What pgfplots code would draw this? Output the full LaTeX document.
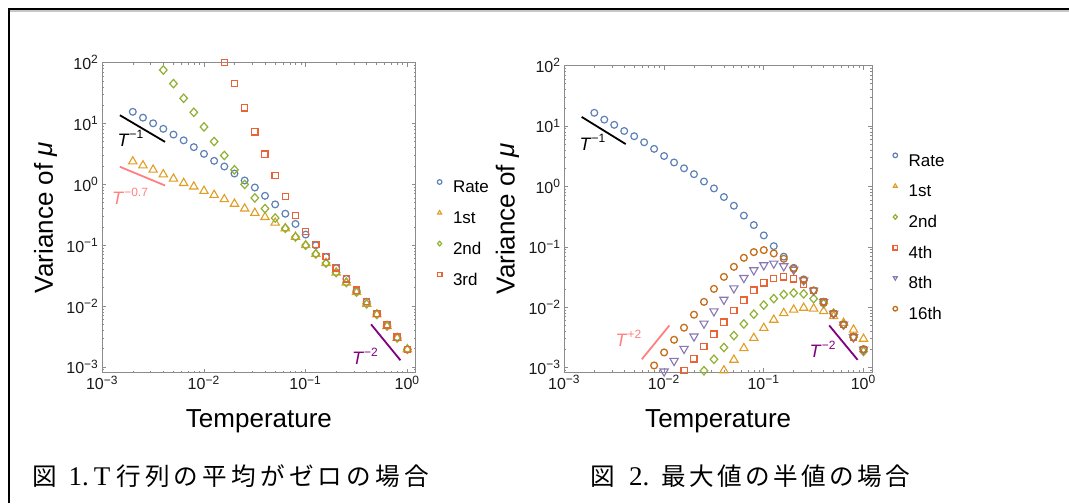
\documentclass[border=0pt]{standalone}
\usepackage{fontspec}
\setmainfont{Liberation Sans}
\newfontfamily\cjkA[LetterSpace=17]{Noto Sans CJK JP}
\newfontfamily\cjkB[LetterSpace=14]{Noto Sans CJK JP}
\newfontfamily\cjk{Noto Sans CJK JP}
\newfontfamily\serif{Liberation Serif}
\usepackage{pgfplots}
\pgfplotsset{compat=1.18}
\definecolor{c1}{rgb}{0.368417,0.506779,0.709798}
\definecolor{c2}{rgb}{0.880722,0.611041,0.142051}
\definecolor{c3}{rgb}{0.560181,0.691569,0.194885}
\definecolor{c4}{rgb}{0.922526,0.385626,0.209179}
\definecolor{c5}{rgb}{0.528488,0.470624,0.701351}
\definecolor{c6}{rgb}{0.772079,0.431554,0.102387}
\definecolor{pinkm}{rgb}{1,0.5,0.5}
\definecolor{purplem}{rgb}{0.5,0,0.5}
\newcommand{\sups}[1]{\textsuperscript{#1}}
\newcommand{\lbfont}{\fontsize{9}{10}\selectfont}

\pgfplotsset{
    scale only axis,
    axis line style={black!45, line width=0.5pt},
    tick style={black!45, line width=0.4pt},
    tick align=inside,
    major tick length=2pt, minor tick length=1pt,
    ticklabel style={font=\fontsize{8}{9}\selectfont, text=black!90},
    xticklabel style={inner sep=1.5pt},
    yticklabel style={inner sep=1.5pt},
    label style={font=\fontsize{13}{15}\selectfont},
    legend cell align=left,
    legend style={draw=none, fill=none, inner sep=0pt, outer sep=0pt,
      font=\fontsize{8.5}{10}\selectfont, row sep=7.6pt, column sep=0pt,
      nodes={inner sep=0pt, text height=6.2pt, text depth=1.3pt}},
    legend image code/.code={\path (-2pt,0pt) (6.5pt,0pt); \draw[#1, mark size=1.15pt] plot coordinates {(0pt,2.9pt)};},
}
\pgfplotsset{
  s1/.style={only marks, color=c1, mark=o, mark size=1.7pt, mark options={line width=0.6pt}},
  s2/.style={only marks, color=c2, mark=triangle, mark size=2.4pt, mark options={line width=0.55pt}},
  s3/.style={only marks, color=c3, mark=diamond, mark size=2.1pt, mark options={line width=0.6pt, xscale=1.2}},
  s4/.style={only marks, color=c4, mark=square, mark size=1.55pt, mark options={line width=0.6pt}},
  s5/.style={only marks, color=c5, mark=triangle, mark size=2.4pt, mark options={line width=0.55pt, rotate=180}},
  s6/.style={only marks, color=c6, mark=o, mark size=1.7pt, mark options={line width=0.65pt}},
}

\begin{document}
\begin{tikzpicture}
\useasboundingbox (0,0) rectangle (534.5pt,251.5pt);
\draw[black!22, line width=0.7pt] (5pt,246pt) -- (534.5pt,246pt);
\draw[black, line width=1.1pt] (4.35pt,0pt) -- (4.35pt,246.85pt) -- (534.5pt,246.85pt);

% ---------------- left plot ----------------
\begin{axis}[
  xmode=log, ymode=log,
  at={(51.15pt,65.25pt)}, anchor=south west,
  width=156.65pt, height=154.9pt,
  xmin=1e-3, xmax=1.205, ymin=8.12e-4, ymax=100,
  xtick={0.001,0.01,0.1,1},
  xticklabels={10\sups{−3},10\sups{−2},10\sups{−1},10\sups{0}},
  minor xtick={0.002,0.003,0.004,0.005,0.006,0.007,0.008,0.009,0.02,0.03,0.04,0.05,0.06,0.07,0.08,0.09,0.2,0.3,0.4,0.5,0.6,0.7,0.8,0.9},
  ytick={0.001,0.01,0.1,1,10,100},
  yticklabels={10\sups{−3},10\sups{−2},10\sups{−1},10\sups{0},10\sups{1},10\sups{2}},
  minor ytick={0.0009,0.002,0.003,0.004,0.005,0.006,0.007,0.008,0.009,0.02,0.03,0.04,0.05,0.06,0.07,0.08,0.09,0.2,0.3,0.4,0.5,0.6,0.7,0.8,0.9,2,3,4,5,6,7,8,9,20,30,40,50,60,70,80,90},
  xlabel={Temperature}, ylabel={Variance of \textit{μ}},
  xlabel style={at={(axis description cs:0.5,-0.177)}, anchor=base},
  ylabel style={at={(axis description cs:-0.1574,0.5)}, anchor=base, rotate=0},
  legend style={at={(axis description cs:1.0626,0.448)}, anchor=west},
]
\addplot[s1] coordinates {
(0.001995,15.6)(0.002512,12.5)(0.003162,10.1)(0.003981,8.2)(0.005012,6.6)(0.00631,5.3)(0.007943,4.1)(0.01,3.18)(0.01259,2.44)(0.01585,1.97)(0.01995,1.51)(0.02512,1.16)(0.03162,0.89)(0.03981,0.65)(0.05012,0.47)(0.0631,0.33)(0.07943,0.224)(0.1,0.15)(0.1259,0.1)(0.1585,0.064)(0.1995,0.042)(0.2512,0.028)(0.3162,0.018)(0.3981,0.0118)(0.5012,0.0075)(0.631,0.0049)(0.7943,0.0031)(1.0,0.00195)};
\addlegendentry{Rate}
\addplot[s2] coordinates {
(0.001995,2.38)(0.002512,2.05)(0.003162,1.74)(0.003981,1.46)(0.005012,1.24)(0.00631,1.05)(0.007943,0.92)(0.01,0.78)(0.01259,0.67)(0.01585,0.57)(0.01995,0.48)(0.02512,0.40)(0.03162,0.34)(0.03981,0.29)(0.05012,0.235)(0.0631,0.19)(0.07943,0.137)(0.1,0.1)(0.1259,0.072)(0.1585,0.051)(0.1995,0.0356)(0.2512,0.0244)(0.3162,0.017)(0.3981,0.0109)(0.5012,0.0073)(0.631,0.0047)(0.7943,0.003)(1.0,0.00195)};
\addlegendentry{1st}
\addplot[s3] coordinates {
(0.003981,75.8)(0.005012,45.3)(0.00631,26)(0.007943,15.3)(0.01,8.8)(0.01259,5.07)(0.01585,2.99)(0.01995,1.74)(0.02512,1.0)(0.03162,0.60)(0.03981,0.40)(0.05012,0.28)(0.0631,0.19)(0.07943,0.137)(0.1,0.1)(0.1259,0.072)(0.1585,0.051)(0.1995,0.0356)(0.2512,0.0244)(0.3162,0.017)(0.3981,0.0109)(0.5012,0.0073)(0.631,0.0047)(0.7943,0.003)(1.0,0.00195)};
\addlegendentry{2nd}
\addplot[s4] coordinates {
(0.01585,100)(0.01995,45.3)(0.02512,18.1)(0.03162,7.3)(0.03981,3.14)(0.05012,1.4)(0.0631,0.64)(0.07943,0.31)(0.1,0.17)(0.1259,0.103)(0.1585,0.065)(0.1995,0.0425)(0.2512,0.028)(0.3162,0.0183)(0.3981,0.0118)(0.5012,0.0075)(0.631,0.0049)(0.7943,0.0031)(1.0,0.00195)};
\addlegendentry{3rd}
\addplot[black, line width=0.9pt, forget plot] coordinates {(0.00149,13.7)(0.00414,5.0)};
\addplot[pinkm, line width=0.9pt, forget plot] coordinates {(0.00149,1.95)(0.00414,0.96)};
\addplot[purplem, line width=0.9pt, forget plot] coordinates {(0.44,0.00502)(0.855,0.00129)};
\node[anchor=base west, inner sep=0pt, text=black, font=\lbfont] at (axis cs:0.0014,4.2) {\textit{T}\sups{−1}};
\node[anchor=base west, inner sep=0pt, text=pinkm, font=\lbfont] at (axis cs:0.00124,0.47) {\textit{T}\sups{−0.7}};
\node[anchor=base west, inner sep=0pt, text=purplem, font=\lbfont] at (axis cs:0.283,0.0011) {\textit{T}\sups{−2}};
\end{axis}

% ---------------- right plot ----------------
\begin{axis}[
  xmode=log, ymode=log,
  at={(282.2pt,65.5pt)}, anchor=south west,
  width=153.8pt, height=153.15pt,
  xmin=1e-3, xmax=1.217, ymin=8.49e-4, ymax=100,
  xtick={0.001,0.01,0.1,1},
  xticklabels={10\sups{−3},10\sups{−2},10\sups{−1},10\sups{0}},
  minor xtick={0.002,0.003,0.004,0.005,0.006,0.007,0.008,0.009,0.02,0.03,0.04,0.05,0.06,0.07,0.08,0.09,0.2,0.3,0.4,0.5,0.6,0.7,0.8,0.9},
  ytick={0.001,0.01,0.1,1,10,100},
  yticklabels={10\sups{−3},10\sups{−2},10\sups{−1},10\sups{0},10\sups{1},10\sups{2}},
  minor ytick={0.0009,0.002,0.003,0.004,0.005,0.006,0.007,0.008,0.009,0.02,0.03,0.04,0.05,0.06,0.07,0.08,0.09,0.2,0.3,0.4,0.5,0.6,0.7,0.8,0.9,2,3,4,5,6,7,8,9,20,30,40,50,60,70,80,90},
  xlabel={Temperature}, ylabel={Variance of \textit{μ}},
  xlabel style={at={(axis description cs:0.5,-0.18)}, anchor=base},
  ylabel style={at={(axis description cs:-0.1622,0.5)}, anchor=base, rotate=0},
  legend style={at={(axis description cs:1.0614,0.439)}, anchor=west},
]
\addplot[s1] coordinates {
(0.001995,16.6)(0.002512,12.8)(0.003162,10.5)(0.003981,8.3)(0.005012,6.8)(0.00631,5.4)(0.007943,4.2)(0.01,3.2)(0.01259,2.5)(0.01585,2.0)(0.01995,1.6)(0.02512,1.21)(0.03162,0.93)(0.03981,0.67)(0.05012,0.48)(0.0631,0.33)(0.07943,0.23)(0.1,0.155)(0.1259,0.103)(0.1585,0.069)(0.1995,0.045)(0.2512,0.029)(0.3162,0.019)(0.3981,0.0123)(0.5012,0.0079)(0.631,0.0052)(0.7943,0.0032)(1.0,0.002)};
\addlegendentry{Rate}
\addplot[s2] coordinates {
(0.03981,0.0009)(0.05012,0.00135)(0.0631,0.0021)(0.07943,0.0031)(0.1,0.00454)(0.1259,0.0062)(0.1585,0.008)(0.1995,0.0091)(0.2512,0.0098)(0.3162,0.0095)(0.3981,0.0086)(0.5012,0.0071)(0.631,0.0055)(0.7943,0.00425)(1.0,0.003)};
\addlegendentry{1st}
\addplot[s3] coordinates {
(0.02512,0.00089)(0.03162,0.00138)(0.03981,0.00216)(0.05012,0.0034)(0.0631,0.0053)(0.07943,0.0077)(0.1,0.0109)(0.1259,0.0139)(0.1585,0.0163)(0.1995,0.0173)(0.2512,0.0167)(0.3162,0.0139)(0.3981,0.0115)(0.5012,0.008)(0.631,0.00515)(0.7943,0.0032)(1.0,0.00186)};
\addlegendentry{2nd}
\addplot[s4] coordinates {
(0.01585,0.0009)(0.01995,0.0014)(0.02512,0.00225)(0.03162,0.0036)(0.03981,0.0057)(0.05012,0.0089)(0.0631,0.0132)(0.07943,0.0192)(0.1,0.0254)(0.1259,0.0303)(0.1585,0.0319)(0.1995,0.0296)(0.2512,0.0238)(0.3162,0.0189)(0.3981,0.0123)(0.5012,0.0079)(0.631,0.0052)(0.7943,0.0032)(1.0,0.002)};
\addlegendentry{4th}
\addplot[s5] coordinates {
(0.01,0.00087)(0.01259,0.0013)(0.01585,0.00206)(0.01995,0.0033)(0.02512,0.0054)(0.03162,0.0086)(0.03981,0.0134)(0.05012,0.0207)(0.0631,0.0307)(0.07943,0.0412)(0.1,0.0499)(0.1259,0.0532)(0.1585,0.048)(0.1995,0.042)(0.2512,0.028)(0.3162,0.019)(0.3981,0.0123)(0.5012,0.0079)(0.631,0.0052)(0.7943,0.0032)(1.0,0.002)};
\addlegendentry{8th}
\addplot[s6] coordinates {
(0.007943,0.00109)(0.01,0.00179)(0.01259,0.0029)(0.01585,0.0046)(0.01995,0.00755)(0.02512,0.0123)(0.03162,0.0202)(0.03981,0.0319)(0.05012,0.0468)(0.0631,0.066)(0.07943,0.082)(0.1,0.0885)(0.1259,0.078)(0.1585,0.0636)(0.1995,0.0434)(0.2512,0.0281)(0.3162,0.0189)(0.3981,0.0123)(0.5012,0.00785)(0.631,0.00515)(0.7943,0.0032)(1.0,0.00203)};
\addlegendentry{16th}
\addplot[black, line width=0.9pt, forget plot] coordinates {(0.00149,14.2)(0.00412,5.04)};
\addplot[pinkm, line width=0.9pt, forget plot] coordinates {(0.00598,0.00138)(0.0113,0.00501)};
\addplot[purplem, line width=0.9pt, forget plot] coordinates {(0.453,0.00501)(0.873,0.00135)};
\node[anchor=base west, inner sep=0pt, text=black, font=\lbfont] at (axis cs:0.00141,4.0) {\textit{T}\sups{−1}};
\node[anchor=base west, inner sep=0pt, text=pinkm, font=\lbfont] at (axis cs:0.00323,0.00224) {\textit{T}\sups{+2}};
\node[anchor=base west, inner sep=0pt, text=purplem, font=\lbfont] at (axis cs:0.286,0.0015) {\textit{T}\sups{−2}};
\end{axis}

% captions
\node[anchor=base west, inner sep=0pt] at (15.85pt,9pt) {\fontsize{12.3}{14}\selectfont{\cjk 図}\hspace{6pt}{\serif\fontsize{13.5}{15}\selectfont 1.}\hspace{2.5pt}{\serif\fontsize{13.5}{15}\selectfont T}\hspace{3pt}{\cjkA 行列の平均がゼロの場合}};
\node[anchor=base west, inner sep=0pt] at (295.1pt,9pt) {\fontsize{12.3}{14}\selectfont{\cjk 図}\hspace{7pt}{\serif\fontsize{13.5}{15}\selectfont 2.}\hspace{6pt}{\cjkB 最大値の半値の場合}};
\end{tikzpicture}
\end{document}
